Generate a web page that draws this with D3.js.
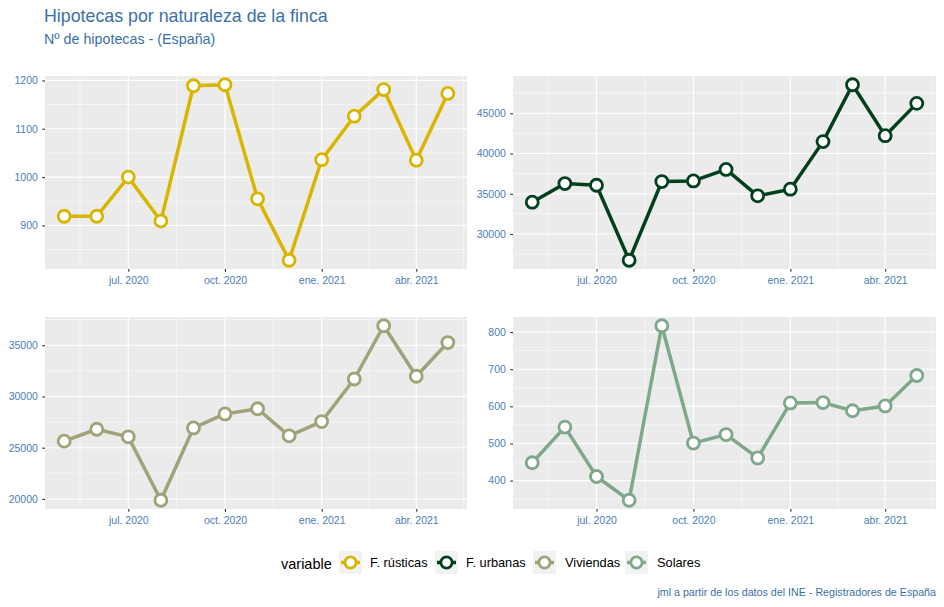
<!DOCTYPE html>
<html>
<head>
<meta charset="utf-8">
<script src="https://cdn.jsdelivr.net/npm/d3@7"></script>
<style>
body{margin:0;background:#fff;}
svg{display:block;font-family:"Liberation Sans",Arial,sans-serif;}
</style>
</head>
<body>
<svg id="chart" width="944" height="607"></svg>
<script>
const months = ["2020-05","2020-06","2020-07","2020-08","2020-09","2020-10","2020-11","2020-12","2021-01","2021-02","2021-03","2021-04","2021-05"];
const rusticas  = [919, 919, 1000, 909, 1189, 1191, 955, 828, 1036, 1126, 1181, 1035, 1173];
const urbanas   = [33960, 36270, 36060, 26750, 36520, 36600, 38030, 34750, 35570, 41480, 48540, 42220, 46230];
const viviendas = [25640, 26800, 26060, 19870, 26930, 28290, 28800, 26160, 27550, 31700, 36900, 31970, 35260];
const solares   = [448, 544, 411, 347, 817, 501, 524, 461, 609, 610, 588, 601, 683];
const seriesNames = ["F. rústicas","F. urbanas","Viviendas","Solares"];
const seriesColors = ["#D9B500","#00401C","#A2A279","#7FA88A"];
const xTickDates = ["2020-07","2020-10","2021-01","2021-04"];
const xTickLabels = ["jul. 2020","oct. 2020","ene. 2021","abr. 2021"];
const yTicks = [
  [900,1000,1100,1200],
  [30000,35000,40000,45000],
  [20000,25000,30000,35000],
  [400,500,600,700,800]
];
const titleText = "Hipotecas por naturaleza de la finca";
const subtitleText = "Nº de hipotecas - (España)";
const captionText = "jml a partir de los datos del INE - Registradores de España";
const legendTitle = "variable";

const parse = d3.timeParse("%Y-%m");
const dates = months.map(parse);
const allValues = [rusticas, urbanas, viviendas, solares];

const svg = d3.select("#chart");
const blue = "#3A70A8";
const tickBlue = "#4A7EBB";

svg.append("text").attr("x",44).attr("y",22).attr("font-size",17.8).attr("fill",blue).text(titleText);
svg.append("text").attr("x",44).attr("y",43.5).attr("font-size",14.3).attr("fill",blue).text(subtitleText);

const panels = [
  {x0:45, x1:467, y0:76, y1:269},
  {x0:513, x1:936, y0:76, y1:269},
  {x0:45, x1:467, y0:317, y1:509},
  {x0:513, x1:936, y0:317, y1:509}
];

function expand(ext, isTime){
  const a = +ext[0], b = +ext[1], d = (b-a)*0.05;
  return isTime ? [new Date(a-d), new Date(b+d)] : [a-d, b+d];
}

const xTicks = xTickDates.map(parse);

panels.forEach((p,i)=>{
  const vals = allValues[i];
  const x = d3.scaleTime().domain(expand(d3.extent(dates), true)).range([p.x0,p.x1]);
  const y = d3.scaleLinear().domain(expand(d3.extent(vals), false)).range([p.y1,p.y0]);
  const g = svg.append("g");
  g.append("rect").attr("x",p.x0).attr("y",p.y0).attr("width",p.x1-p.x0).attr("height",p.y1-p.y0).attr("fill","#EBEBEB");

  const xt = xTicks.map(d=>+d);
  const xStep = xt[1]-xt[0];
  const xMinor = [];
  xMinor.push(xt[0]-xStep/2);
  for(let k=0;k<xt.length-1;k++) xMinor.push((xt[k]+xt[k+1])/2);
  xMinor.push(xt[xt.length-1]+(xt[xt.length-1]-xt[xt.length-2])/2);
  const xd = x.domain().map(Number);
  xMinor.filter(v=>v>=xd[0]&&v<=xd[1]).forEach(v=>{
    g.append("line").attr("x1",x(new Date(v))).attr("x2",x(new Date(v))).attr("y1",p.y0).attr("y2",p.y1).attr("stroke","#fff").attr("stroke-width",0.55);
  });
  const yt = yTicks[i];
  const ys = yt[1]-yt[0];
  const yd = y.domain();
  const yMinor = [yt[0]-ys/2];
  for(let k=0;k<yt.length-1;k++) yMinor.push((yt[k]+yt[k+1])/2);
  yMinor.push(yt[yt.length-1]+ys/2);
  yMinor.filter(v=>v>=yd[0]&&v<=yd[1]).forEach(v=>{
    g.append("line").attr("x1",p.x0).attr("x2",p.x1).attr("y1",y(v)).attr("y2",y(v)).attr("stroke","#fff").attr("stroke-width",0.55);
  });
  xTicks.forEach(d=>{
    g.append("line").attr("x1",x(d)).attr("x2",x(d)).attr("y1",p.y0).attr("y2",p.y1).attr("stroke","#fff").attr("stroke-width",1.1);
  });
  yt.forEach(v=>{
    g.append("line").attr("x1",p.x0).attr("x2",p.x1).attr("y1",y(v)).attr("y2",y(v)).attr("stroke","#fff").attr("stroke-width",1.1);
  });

  const xAxis = d3.axisBottom(x).tickValues(xTicks).tickSize(2.75).tickPadding(4.5)
    .tickFormat((d,k)=>xTickLabels[k]);
  const xg = g.append("g").attr("transform",`translate(0,${p.y1})`).call(xAxis);
  const yAxis = d3.axisLeft(y).tickValues(yt).tickSize(2.75).tickPadding(4.4).tickFormat(d3.format("d"));
  const yg = g.append("g").attr("transform",`translate(${p.x0},0)`).call(yAxis);
  [xg,yg].forEach(a=>{
    a.select(".domain").remove();
    a.selectAll(".tick line").attr("stroke","#333").attr("stroke-width",1.1);
    a.selectAll(".tick text").attr("fill",tickBlue).attr("font-size",10.5).attr("font-family","Liberation Sans, Arial, sans-serif");
  });

  const line = d3.line().x((d,k)=>x(dates[k])).y(d=>y(d));
  g.append("path").datum(vals).attr("d",line).attr("fill","none").attr("stroke",seriesColors[i]).attr("stroke-width",3.5).attr("stroke-linejoin","round");
  g.selectAll("circle.pt").data(vals).enter().append("circle")
    .attr("cx",(d,k)=>x(dates[k])).attr("cy",d=>y(d)).attr("r",6)
    .attr("fill","#fff").attr("stroke",seriesColors[i]).attr("stroke-width",2.8);
});

const lg = svg.append("g");
lg.append("text").attr("x",281).attr("y",568.5).attr("font-size",14.5).attr("fill","#000").text(legendTitle);
const keyX = [339, 435, 533, 625];
const textX = [370, 466, 565, 657];
seriesNames.forEach((n,i)=>{
  lg.append("rect").attr("x",keyX[i]).attr("y",551).attr("width",23).attr("height",23).attr("fill","#F2F2F2");
  lg.append("line").attr("x1",keyX[i]+2).attr("x2",keyX[i]+21).attr("y1",562.5).attr("y2",562.5).attr("stroke",seriesColors[i]).attr("stroke-width",3.5);
  lg.append("circle").attr("cx",keyX[i]+11.5).attr("cy",562.5).attr("r",5.6).attr("fill","#fff").attr("stroke",seriesColors[i]).attr("stroke-width",2.8);
  lg.append("text").attr("x",textX[i]).attr("y",567).attr("font-size",12.8).attr("fill","#000").text(n);
});

svg.append("text").attr("x",936).attr("y",596).attr("text-anchor","end").attr("font-size",10.7).attr("fill",blue).text(captionText);
</script>
</body>
</html>
